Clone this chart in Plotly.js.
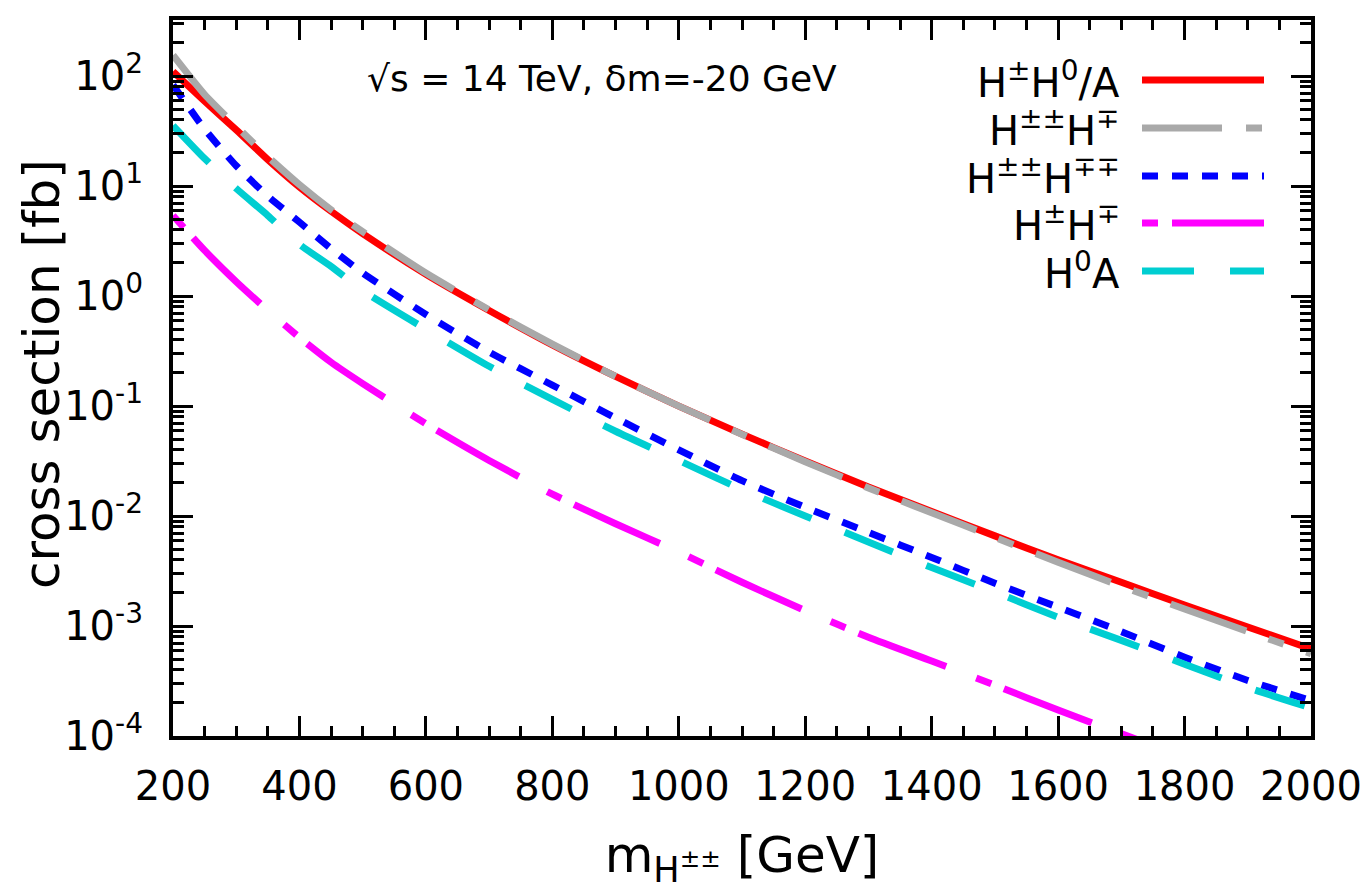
<!DOCTYPE html>
<html>
<head>
<meta charset="utf-8">
<script src="https://cdn.plot.ly/plotly-3.0.1.min.js"></script>
<style>
  html, body { margin: 0; padding: 0; background: #fff; }
  #chart { width: 1371px; height: 890px; }
</style>
</head>
<body>
<div id="chart"></div>
<script>
// ---- data (cross sections in fb) ----
const mass = [200, 250, 300, 350, 400, 450, 500, 600, 700, 800, 900, 1000,
              1100, 1200, 1300, 1400, 1500, 1600, 1700, 1800, 1900, 2000];
const sigHpH0A   = [110, 59, 32.5, 17.4, 9.8, 5.9, 3.7, 1.58, 0.74, 0.36, 0.186, 0.100,
                    0.0556, 0.0316, 0.0184, 0.0110, 0.0066, 0.0040, 0.0025, 0.00155, 0.00098, 0.00062];
const sigHppHm   = [155, 68, 35, 18.5, 10.3, 6.1, 3.85, 1.62, 0.75, 0.365, 0.186, 0.100,
                    0.0553, 0.0312, 0.0180, 0.0107, 0.0064, 0.0038, 0.0023, 0.00143, 0.00089, 0.00056];
const sigHppHmm  = [83, 33, 15.3, 8.1, 4.7, 2.7, 1.62, 0.68, 0.31, 0.155, 0.078, 0.040,
                    0.021, 0.012, 0.0071, 0.0042, 0.00245, 0.00148, 0.00089, 0.00052, 0.00032, 0.00021];
const sigH0A     = [35.5, 17.8, 9.5, 5.4, 2.95, 1.86, 1.12, 0.50, 0.23, 0.115, 0.059, 0.032,
                    0.0174, 0.010, 0.0058, 0.0034, 0.00204, 0.0012, 0.00074, 0.00045, 0.000275, 0.00018];
const massHpHm   = [200, 250, 300, 350, 400, 450, 500, 600, 700, 800, 900, 1000,
                    1100, 1200, 1300, 1400, 1500, 1600, 1700, 1750];
const sigHpHm    = [5.4, 2.6, 1.35, 0.74, 0.42, 0.25, 0.16, 0.069, 0.032, 0.0158, 0.0085, 0.0047,
                    0.0025, 0.00138, 0.00079, 0.00048, 0.00029, 0.000172, 0.000105, 0.000082];

const yTickVals = [1e-4, 1e-3, 1e-2, 1e-1, 1e0, 1e1, 1e2];
const yTickText = ['10<sup>-4</sup>', '10<sup>-3</sup>', '10<sup>-2</sup>', '10<sup>-1</sup>',
                   '10<sup>0</sup>', '10<sup>1</sup>', '10<sup>2</sup>'];

// ---- series styling (gnuplot-like dash patterns) ----
const series = [
  { name: 'H<sup>±</sup>H<sup>0</sup>/A',   x: mass,     y: sigHpH0A,  color: '#ff0000', dash: 'solid' },
  { name: 'H<sup>±±</sup>H<sup>∓</sup>',    x: mass,     y: sigHppHm,  color: '#a9a9a9', dash: '80px,24px,16px,24px' },
  { name: 'H<sup>±±</sup>H<sup>∓∓</sup>',   x: mass,     y: sigHppHmm, color: '#0000ff', dash: '16px,14px' },
  { name: 'H<sup>±</sup>H<sup>∓</sup>',     x: massHpHm, y: sigHpHm,   color: '#ff00ff', dash: '16px,14px,94px,32px' },
  { name: 'H<sup>0</sup>A',                 x: mass,     y: sigH0A,    color: '#00ced1', dash: '52px,36px' }
];

// ---- geometry helpers (pixel -> paper) ----
const W = 1371, H = 890;
const M = { l: 173, r: 60, t: 20, b: 154 };
const px2x = px => (px - M.l) / (W - M.l - M.r);
const py2y = py => (H - M.b - py) / (H - M.t - M.b);

const FONT = 'DejaVu Sans, Liberation Sans, sans-serif';
const LW = 7;

const traces = series.map(s => ({
  x: s.x, y: s.y, type: 'scatter', mode: 'lines', name: s.name,
  line: { color: s.color, width: LW, dash: s.dash, shape: 'spline', smoothing: 0.6 },
  showlegend: false, hoverinfo: 'x+y+name'
}));

// hand-drawn legend (long samples like the original)
const legRows = [80, 128, 176, 223, 271];
const shapes = series.map((s, i) => ({
  type: 'line', xref: 'paper', yref: 'paper',
  x0: px2x(1142), x1: px2x(1264), y0: py2y(legRows[i]), y1: py2y(legRows[i]),
  line: { color: s.color, width: LW, dash: s.dash }
}));
const annotations = series.map((s, i) => ({
  xref: 'paper', yref: 'paper', x: px2x(1122), y: py2y(legRows[i]),
  xanchor: 'right', yanchor: 'middle', showarrow: false,
  text: s.name, font: { family: FONT, size: 40, color: '#000' }
}));
annotations.push({
  xref: 'paper', yref: 'paper', x: px2x(602), y: py2y(78),
  xanchor: 'center', yanchor: 'middle', showarrow: false,
  text: '√s = 14 TeV, δm=-20 GeV', font: { family: FONT, size: 36, color: '#000' }
});
// y title as rotated text so it sits where the original has it
annotations.push({
  xref: 'paper', yref: 'paper', x: px2x(42), y: py2y(374),
  xanchor: 'center', yanchor: 'middle', showarrow: false, textangle: -90,
  text: 'cross section [fb]', font: { family: FONT, size: 50, color: '#000' }
});

// minor ticks 2..9 per decade
const yMinor = [];
for (let e = -4; e <= 2; e++) for (let k = 2; k <= 9; k++) yMinor.push(k * Math.pow(10, e));

const axisCommon = {
  showgrid: false, zeroline: false, showline: true, linecolor: '#000', linewidth: 4,
  mirror: 'allticks', ticks: 'inside', ticklen: 20, tickwidth: 3, tickcolor: '#000',
  tickfont: { family: FONT, size: 40, color: '#000' }
};

const layout = {
  width: W, height: H,
  margin: M,
  paper_bgcolor: '#fff', plot_bgcolor: '#fff',
  font: { family: FONT, color: '#000' },
  xaxis: Object.assign({}, axisCommon, {
    range: [200, 2000], tick0: 200, dtick: 200, ticklabelstandoff: 12,
    minor: { dtick: 50, ticks: 'inside', ticklen: 10, tickwidth: 3, tickcolor: '#000' },
    title: { text: 'm<sub>H<sup>±±</sup></sub> [GeV]', font: { family: FONT, size: 50 }, standoff: 32 }
  }),
  yaxis: Object.assign({}, axisCommon, {
    type: 'log', range: [-4, 2.51], ticklabelstandoff: 18,
    tickmode: 'array', tickvals: yTickVals, ticktext: yTickText,
    minor: { tickmode: 'array', tickvals: yMinor, ticks: 'inside', ticklen: 11, tickwidth: 3, tickcolor: '#000' }
  }),
  shapes: shapes,
  annotations: annotations
};

Plotly.newPlot('chart', traces, layout, { displayModeBar: false, staticPlot: true });
</script>
</body>
</html>
